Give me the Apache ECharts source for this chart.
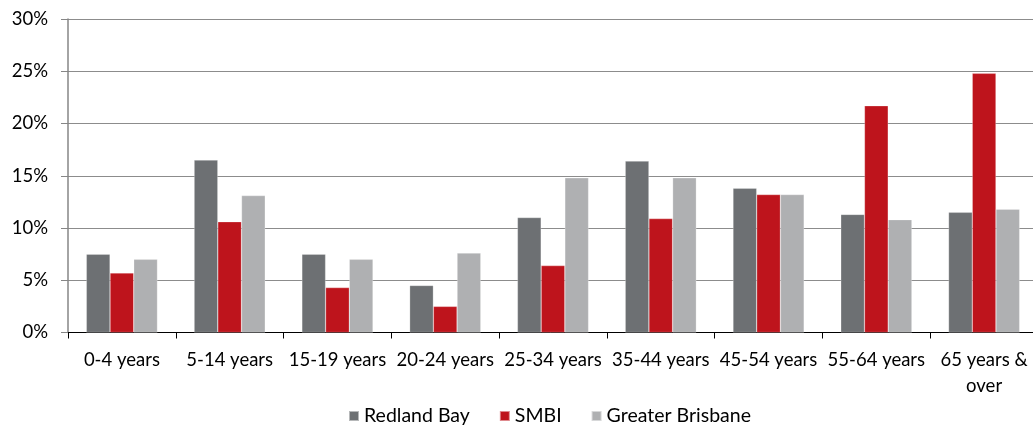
<!DOCTYPE html>
<html>
<head>
<meta charset="utf-8">
<script src="https://cdn.jsdelivr.net/npm/echarts@6/dist/echarts.min.js"></script>
<style>
  html, body { margin: 0; padding: 0; background: #fff; }
  #chart { width: 1033px; height: 425px; }
</style>
</head>
<body>
<div id="chart"></div>
<script>
var categories = ['0-4 years', '5-14 years', '15-19 years', '20-24 years', '25-34 years',
                  '35-44 years', '45-54 years', '55-64 years', '65 years & over'];
var redlandBay = [7.5, 16.5, 7.5, 4.5, 11.0, 16.4, 13.8, 11.3, 11.5];
var smbi = [5.7, 10.6, 4.3, 2.5, 6.4, 10.9, 13.2, 21.7, 24.8];
var greaterBrisbane = [7.0, 13.1, 7.0, 7.6, 14.8, 14.8, 13.2, 10.8, 11.8];
var yTicks = [0, 5, 10, 15, 20, 25, 30];

var font = 'Lato, "Open Sans", sans-serif';
var myChart = echarts.init(document.getElementById('chart'));

function bar(name, data, color) {
    return {
        name: name,
        type: 'bar',
        data: data,
        barGap: '0%',
        barCategoryGap: '34%',
        itemStyle: { color: color, borderColor: 'rgba(255,255,255,0.5)', borderWidth: 0.5 }
    };
}

var option = {
    animation: false,
    textStyle: { fontFamily: font },
    grid: { left: 68, top: 19, bottom: 92.5, width: 970, outerBoundsMode: 'none' },
    legend: {
        top: 401,
        left: 343,
        itemWidth: 10,
        itemHeight: 10,
        itemGap: 29,
        icon: 'rect',
        textStyle: { fontSize: 19.5, color: '#000', fontFamily: font },
        data: ['Redland Bay', 'SMBI', 'Greater Brisbane']
    },
    xAxis: {
        type: 'category',
        data: categories,
        axisLine: { lineStyle: { color: '#000', width: 1 } },
        axisTick: { show: true, length: 6, lineStyle: { color: '#000' } },
        axisLabel: {
            interval: 0,
            margin: 15,
            fontSize: 18.5,
            color: '#000',
            lineHeight: 26,
            formatter: function (v) { return v.replace('& ', '&\n'); }
        }
    },
    yAxis: {
        type: 'value',
        min: yTicks[0],
        max: yTicks[yTicks.length - 1],
        interval: 5,
        axisLine: { show: true, lineStyle: { color: '#868686', width: 1.5 } },
        axisTick: { show: true, length: 7, lineStyle: { color: '#868686' } },
        axisLabel: { fontSize: 18.5, color: '#000', margin: 20, formatter: '{value}%' },
        splitLine: { lineStyle: { color: '#8c8c8c', width: 1.2 } }
    },
    series: [
        bar('Redland Bay', redlandBay, '#6d7073'),
        bar('SMBI', smbi, '#be141c'),
        bar('Greater Brisbane', greaterBrisbane, '#afb0b2')
    ]
};
myChart.setOption(option);
</script>
</body>
</html>
